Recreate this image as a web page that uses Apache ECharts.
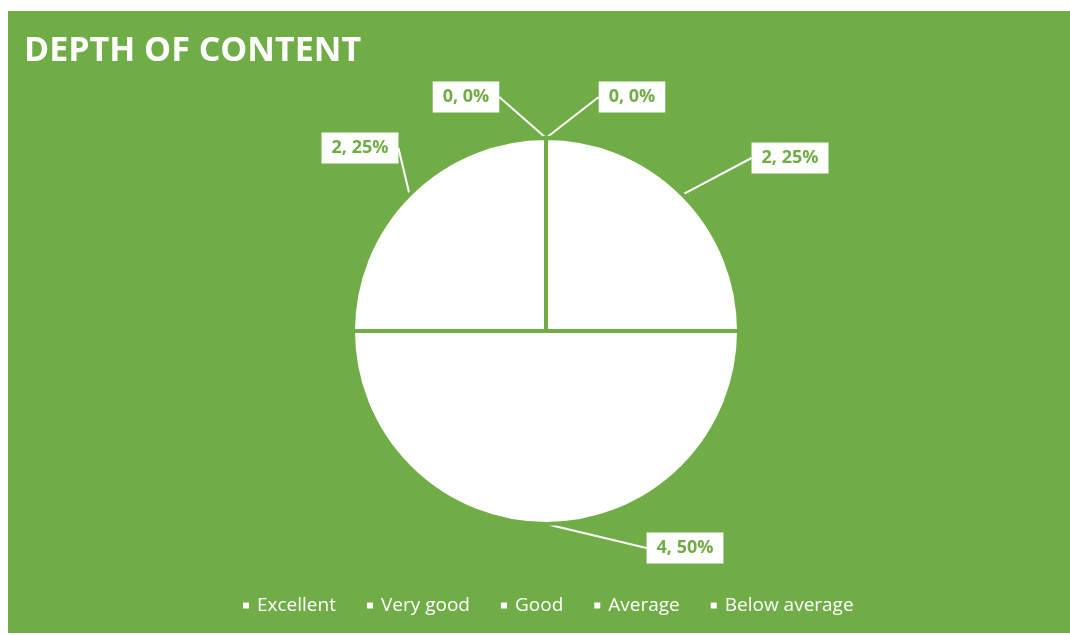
<!DOCTYPE html>
<html>
<head>
<meta charset="utf-8">
<script src="https://cdn.jsdelivr.net/npm/echarts@6/dist/echarts.min.js"></script>
<style>
html,body{margin:0;padding:0;background:#fff;}
#chart{position:absolute;left:8px;top:11px;width:1062px;height:622px;}
</style>
</head>
<body>
<div id="chart"></div>
<script>
const titleText = 'DEPTH OF CONTENT';
const categories = ['Excellent', 'Very good', 'Good', 'Average', 'Below average'];
const values = [0, 2, 4, 2, 0];

const GREEN = '#70AD47';
// label box centers (chart pixel coords), per category, as placed by the reference's callouts
const labelSpots = [[624, 86], [782, 147], [677, 537], [352, 137], [458, 86]];

const chart = echarts.init(document.getElementById('chart'));
chart.setOption({
  backgroundColor: GREEN,
  animation: false,
  title: {
    text: titleText,
    left: 11, top: 18,
    textStyle: { color: '#fff', fontFamily: 'Open Sans', fontWeight: 'bold', fontSize: 34 }
  },
  legend: {
    bottom: 13, left: 228,
    icon: 'rect', itemWidth: 8, itemHeight: 8, itemGap: 29,
    textStyle: { color: '#fff', fontFamily: 'Open Sans', fontSize: 19, padding: [0, 0, 0, 2] },
    data: categories
  },
  series: [{
    type: 'pie',
    center: [538, 320],
    radius: 193,
    startAngle: 90,
    clockwise: true,
    avoidLabelOverlap: false,
    itemStyle: { color: '#fff', borderColor: GREEN, borderWidth: 4 },
    emphasis: { disabled: true },
    label: {
      show: true,
      position: 'outside',
      formatter: '{c}, {d}%',
      color: GREEN,
      backgroundColor: '#fff',
      fontFamily: 'Open Sans',
      fontWeight: 'bold',
      fontSize: 18,
      padding: [7, 10, 6, 10]
    },
    labelLine: { show: true, length: 20, length2: 0, lineStyle: { color: '#fff', width: 2 } },
    labelLayout: function (p) {
      const s = labelSpots[p.dataIndex];
      return { x: s[0], y: s[1], align: 'center', verticalAlign: 'middle' };
    },
    data: categories.map((c, i) => ({ name: c, value: values[i] }))
  }]
});
</script>
</body>
</html>
